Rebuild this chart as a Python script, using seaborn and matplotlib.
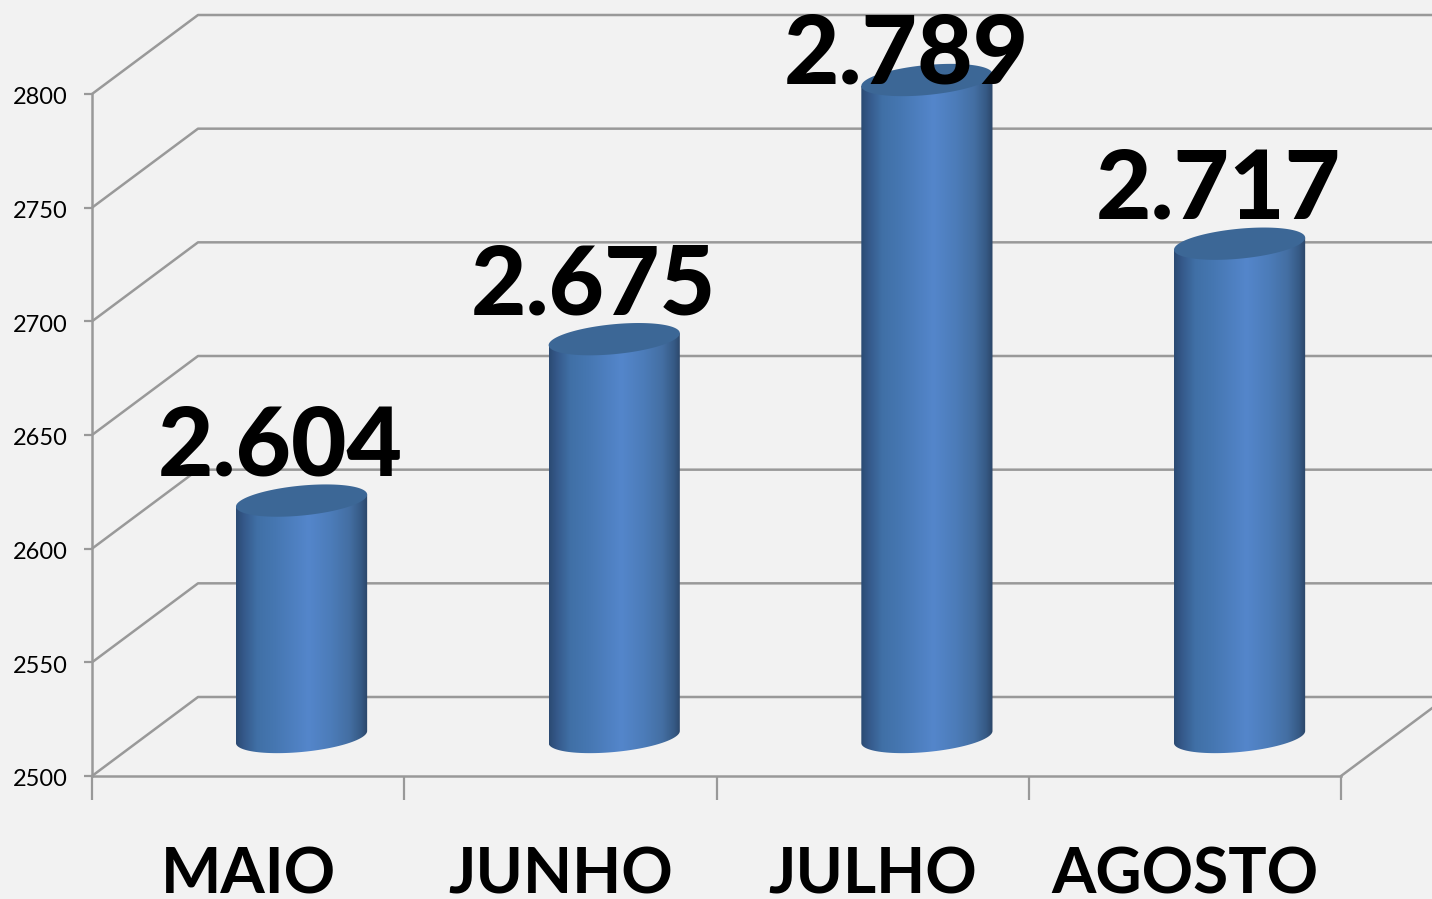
import numpy as np
import pandas as pd
import matplotlib
matplotlib.use("Agg")
import matplotlib.pyplot as plt
from matplotlib.colors import LinearSegmentedColormap
from matplotlib.patches import PathPatch, Polygon
from matplotlib.path import Path
from matplotlib.transforms import ScaledTranslation
import seaborn as sns

months = ["MAIO", "JUNHO", "JULHO", "AGOSTO"]
values = [2604, 2675, 2789, 2717]
value_labels = ["2.604", "2.675", "2.789", "2.717"]
y_ticks = [2500, 2550, 2600, 2650, 2700, 2750, 2800]

W, H = 1432, 899
BG = "#f2f2f2"
LINE = "#999999"

sns.set_theme(style="white")
plt.rcParams["font.family"] = ["Lato", "DejaVu Sans"]

fig = plt.figure(figsize=(W / 100, H / 100), dpi=100, facecolor=BG)

# pixels per data unit
KX = 312.25
KY = (776 - 94) / 300
xlim = (-0.5 - 92 / KX, 3.5 + (W - 1341) / KX)
ylim = (2500 - (H - 776) / KY, 2500 + 776 / KY)
DX, DY = 106 / KX, 79 / KY  # depth of the box

ax = fig.add_axes([0, 0, 1, 1], facecolor=BG)
ax.set_xlim(xlim)
ax.set_ylim(ylim)

# walls and floor
for v in y_ticks:
    ax.plot([-0.5, -0.5 + DX, xlim[1]], [v, v + DY, v + DY], color=LINE, lw=1.8, solid_capstyle="butt")
ax.plot([3.5, 3.5 + DX], [2500, 2500 + DY], color=LINE, lw=1.8)

for s in ["top", "right"]:
    ax.spines[s].set_visible(False)
for s in ["left", "bottom"]:
    ax.spines[s].set_color(LINE)
    ax.spines[s].set_linewidth(1.8)
    ax.spines[s].set_position(("data", 2500 if s == "bottom" else -0.5))
ax.spines["left"].set_bounds(2500, 2800)
ax.spines["bottom"].set_bounds(-0.5, 3.5)

ax.set_yticks(y_ticks)
ax.set_yticklabels([str(v) for v in y_ticks], fontsize=17, color="black")
ax.tick_params(axis="y", length=5.8, width=1.6, color=LINE, pad=12, left=True)
shift = ScaledTranslation(0, -2 / 100, fig.dpi_scale_trans)
for lab in ax.get_yticklabels():
    lab.set_transform(lab.get_transform() + shift)
ax.set_xticks(np.arange(-0.5, 4, 1))
ax.set_xticklabels([])
ax.tick_params(axis="x", which="major", length=17, width=1.6, color=LINE, bottom=True)
ax.set_xticks(range(4), minor=True)
ax.set_xticklabels(months, minor=True, fontsize=46, fontweight="bold", color="black")
ax.tick_params(axis="x", which="minor", length=0, pad=51, bottom=False)

# bars live in the mid-depth plane of the box
ax2 = fig.add_axes([53.1 / W, 39 / H, 312.67 / 312.25, 1], facecolor="none")
ax2.set_xlim(xlim)
ax2.set_ylim(ylim)
df = pd.DataFrame({"mes": months, "valor": values})
sns.barplot(data=df, x="mes", y="valor", ax=ax2, width=131 / KX, color="#4f81bd", saturation=1)
ax2.set_xlim(xlim)
ax2.set_ylim(ylim)
ax2.axis("off")

cmap = LinearSegmentedColormap.from_list("cyl", [
    (0.00, "#2b4a73"), (0.06, "#35598a"), (0.16, "#4070a6"), (0.30, "#4677b2"),
    (0.55, "#5486cb"), (0.72, "#4c7cb9"), (0.86, "#446fa3"), (0.95, "#365a85"), (1.00, "#2b4668"),
])
grad = np.linspace(0, 1, 256).reshape(1, -1)


def ellipse(cx, cy, half_w, t):
    return np.column_stack([
        cx + half_w * np.cos(t),
        cy + (6.0 * np.cos(t) + 15.0 * np.sin(t)) / KY,
    ])


for i, bar in enumerate(ax2.patches):
    x0, w, top = bar.get_x(), bar.get_width(), bar.get_height()
    cx = x0 + w / 2
    bar.set_visible(False)
    lower = ellipse(cx, 2500, w / 2, np.linspace(0, -np.pi, 60))
    top_right = ellipse(cx, top, w / 2, np.array([0.0]))
    top_left = ellipse(cx, top, w / 2, np.array([np.pi]))
    verts = np.vstack([top_left, top_right, lower, top_left])
    clip = PathPatch(Path(verts), transform=ax2.transData, facecolor="none", edgecolor="none")
    ax2.add_patch(clip)
    im = ax2.imshow(grad, cmap=cmap, aspect="auto", zorder=3, interpolation="bilinear",
                    extent=(x0, x0 + w, 2480, top + 12))
    im.set_clip_path(clip)
    cap = Polygon(ellipse(cx, top, w / 2, np.linspace(0, 2 * np.pi, 120)), closed=True,
                  facecolor="#3c6796", edgecolor="none", zorder=4)
    ax2.add_patch(cap)
    dy_px = -3 if values[i] == max(values) else 25
    ax2.annotate(value_labels[i], (cx, top), xytext=(-21 * 0.72, dy_px * 0.72),
                 textcoords="offset points", ha="center", va="baseline",
                 fontsize=69, fontweight="black", color="black", zorder=6, annotation_clip=False)
ax2.set_xlim(xlim)
ax2.set_ylim(ylim)

fig.savefig("out.png", dpi=100, facecolor=BG)
